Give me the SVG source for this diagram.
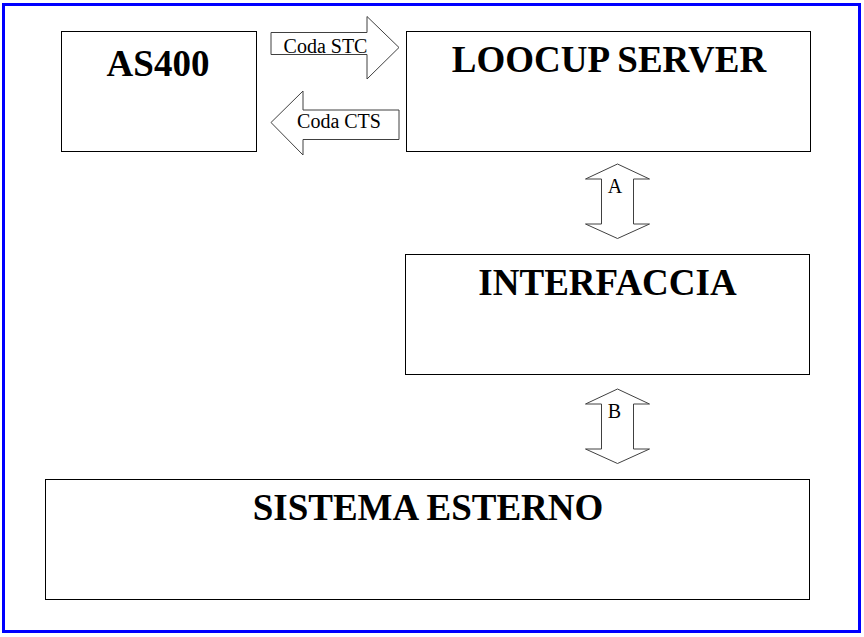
<svg xmlns="http://www.w3.org/2000/svg" width="864" height="637" viewBox="0 0 864 637">
<style>
.box{fill:#fff;stroke:#000;stroke-width:1}
.arr{fill:#fff;stroke:#404040;stroke-width:1}
.title{font-family:"Liberation Serif",serif;font-weight:bold;font-size:37px;text-anchor:middle;fill:#000}
.lbl{font-family:"Liberation Serif",serif;font-size:20px;text-anchor:middle;fill:#000}
</style>
<rect x="0" y="0" width="864" height="637" fill="#fff"/>
<rect x="3.5" y="4.5" width="856" height="627" fill="none" stroke="#0000ff" stroke-width="3"/>
<g id="as400">
<rect class="box" x="61.5" y="31.5" width="195" height="120"/>
<text class="title" x="158" y="76">AS400</text>
</g>
<g id="loocup-server">
<rect class="box" x="406.5" y="31.5" width="404" height="120"/>
<text class="title" x="609" y="72">LOOCUP SERVER</text>
</g>
<g id="interfaccia">
<rect class="box" x="405.5" y="254.5" width="404" height="120"/>
<text class="title" x="607.5" y="295">INTERFACCIA</text>
</g>
<g id="sistema-esterno">
<rect class="box" x="45.5" y="479.5" width="764" height="120"/>
<text class="title" x="428" y="520">SISTEMA ESTERNO</text>
</g>
<g id="connectors">
<g id="coda-stc">
<polygon class="arr" points="271,32.5 367,32.5 367,16.5 399,47.5 367,79 367,54.5 271,54.5"/>
<text class="lbl" x="325.5" y="53">Coda STC</text>
</g>
<g id="coda-cts">
<polygon class="arr" points="399,110 303,110 303,91 271,122.5 303,155 303,139.5 399,139.5"/>
<text class="lbl" x="339" y="128">Coda CTS</text>
</g>
<g id="arrow-a">
<polygon class="arr" points="617.5,164 649.5,179 633.5,179 633.5,224 649.5,224 617.5,238.5 585.5,224 601.5,224 601.5,179 585.5,179"/>
<text class="lbl" x="615" y="193">A</text>
</g>
<g id="arrow-b">
<polygon class="arr" points="617.5,389 649.5,404 633.5,404 633.5,449 649.5,449 617.5,463.5 585.5,449 601.5,449 601.5,404 585.5,404"/>
<text class="lbl" x="614.5" y="418">B</text>
</g>
</g>
</svg>
